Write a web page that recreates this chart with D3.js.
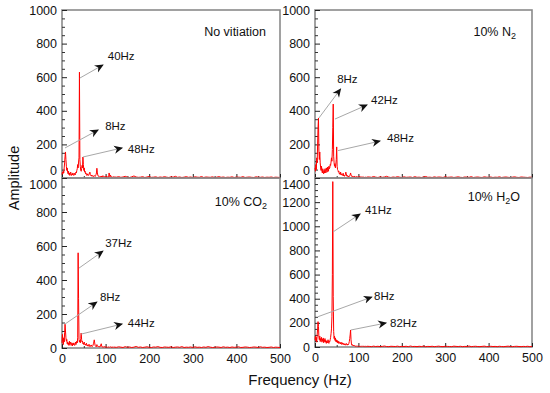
<!DOCTYPE html>
<html>
<head>
<meta charset="utf-8">
<script src="https://cdn.jsdelivr.net/npm/d3@7"></script>
<style>
  body { margin: 0; background: #fff; }
  svg text { font-family: "Liberation Sans", Arial, sans-serif; }
</style>
</head>
<body>
<svg width="550" height="393"></svg>
<script>
// spectrum values, 1 Hz steps from 0 to 120 Hz
const lowFreq = d3.range(0, 121)
// tail, 5 Hz steps from 125 to 500 Hz
const tailFreq = d3.range(125, 501, 5)

const noVitLow = [20,35,25,40,30,60,90,130,155,110,70,45,60,35,25,40,20,30,15,25,
  35,20,15,25,18,30,22,15,20,28,18,25,35,30,45,55,80,60,95,120,
  630,110,70,45,40,55,75,60,125,80,45,60,35,40,25,30,20,15,25,18,
  20,15,22,30,35,20,15,12,18,10,14,12,8,10,15,12,9,14,20,30,
  58,35,18,12,10,8,12,9,7,10,6,12,8,6,14,10,7,5,9,6,
  8,5,12,7,5,8,6,4,30,16,7,18,12,6,5,7,4,6,8,5,6]
const noVitTail = [5,8,4,6,10,5,3,7,12,6,4,5,8,3,6,9,4,5,7,3,
  6,4,8,5,3,7,5,10,4,6,3,5,8,4,6,3,7,5,4,9,
  3,6,5,4,7,3,5,8,4,6,3,5,4,7,3,6,5,4,8,3,
  5,6,4,3,7,5,4,6,3,5,4,6,3,5,4,3]

const n2Low = [60,40,80,50,120,90,200,300,357,160,110,155,90,60,45,70,40,30,55,35,
  25,45,30,55,40,30,60,45,35,65,50,40,70,55,60,80,75,95,120,100,
  170,300,440,130,90,70,85,60,80,110,185,70,50,45,35,40,25,30,20,35,
  22,18,25,15,20,28,12,18,10,14,20,35,25,12,10,15,8,12,6,10,
  14,20,30,18,12,8,10,6,9,5,8,12,6,4,7,5,9,6,4,8,
  5,7,4,10,6,5,3,7,5,4,6,8,4,5,3,6,4,7,5,3,6]
const n2Tail = [6,4,9,5,3,7,4,6,10,5,3,6,4,8,5,3,7,4,5,6,
  3,8,4,5,3,6,9,4,5,3,7,4,6,5,3,8,4,5,6,3,
  5,7,4,3,6,5,4,8,3,5,6,4,3,7,5,4,6,3,5,4,
  7,3,5,6,4,3,5,7,4,3,6,5,4,3,5,4]

const co2Low = [30,80,40,20,60,35,90,140,100,60,40,50,25,35,20,30,15,40,20,25,
  35,15,20,30,12,25,18,30,20,15,25,35,20,28,40,30,60,560,290,50,
  35,45,30,55,88,50,35,40,25,30,20,35,25,18,22,15,28,20,12,18,
  10,15,22,12,8,14,10,18,12,8,10,15,25,35,48,30,15,10,12,8,
  20,12,10,6,8,12,7,5,9,18,25,12,6,5,8,4,7,5,9,6,
  4,8,5,3,6,4,7,5,3,6,4,5,8,4,3,6,5,4,7,3,5]
const co2Tail = [4,7,5,3,8,4,6,3,5,9,4,6,3,5,7,4,3,6,5,8,
  4,3,6,5,4,7,3,5,6,4,8,3,5,4,6,3,7,4,5,3,
  6,4,8,5,3,4,6,5,3,7,4,5,3,6,4,5,7,3,4,6,
  5,3,4,6,5,3,7,4,5,3,4,6,3,5,4,3]

const h2oLow = [60,90,50,80,40,100,150,210,170,80,60,90,45,70,55,80,40,65,50,75,
  35,60,45,70,40,55,30,50,45,35,60,40,30,50,45,60,80,110,150,250,
  600,1370,420,130,70,90,55,75,45,60,40,55,35,50,30,45,40,30,35,25,
  40,30,20,35,25,30,20,28,18,25,15,22,30,20,15,25,18,20,30,45,
  70,100,141,60,25,15,20,12,8,15,10,12,6,8,5,9,6,4,7,5,
  8,4,6,3,7,5,4,6,3,5,8,4,6,3,5,4,7,3,5,4,6]
const h2oTail = [5,3,7,4,6,3,5,8,4,3,6,5,4,7,3,5,4,6,3,8,
  4,5,3,6,4,7,3,5,4,6,3,5,7,4,3,6,5,4,3,7,
  5,4,6,3,5,4,8,3,5,6,4,3,5,7,4,3,6,4,5,3,
  6,4,3,5,7,4,3,5,6,4,3,5,4,6,3,4]

// annotations: arrow from [freq, amp] to [freq, amp], label anchored at [freq, amp]
const noVitNotes = [
  { text: '40Hz', from: [41, 595], to: [94, 673], at: [105, 720] },
  { text: '8Hz',  from: [7, 179],  to: [83, 286], at: [99, 304] },
  { text: '48Hz', from: [48, 125], to: [138, 179], at: [151, 167] }
]
const n2Notes = [
  { text: '8Hz',  from: [9, 357],  to: [59, 530],  at: [51, 583] },
  { text: '42Hz', from: [46, 351], to: [120, 435], at: [129, 458] },
  { text: '48Hz', from: [53, 163], to: [150, 220], at: [166, 232] }
]
const co2Notes = [
  { text: '37Hz', from: [39, 470], to: [94, 570],  at: [99, 612] },
  { text: '8Hz',  from: [7, 141],  to: [80, 270],  at: [87, 294] },
  { text: '44Hz', from: [44, 82],  to: [138, 141], at: [151, 141] }
]
const h2oNotes = [
  { text: '41Hz', from: [41.5, 953], to: [104, 1102], at: [115, 1127] },
  { text: '8Hz',  from: [7, 251],    to: [131, 414],  at: [136, 414] },
  { text: '82Hz', from: [83, 141],   to: [164, 199],  at: [173, 190] }
]

const yTicks1000 = [0, 200, 400, 600, 800, 1000]
const yTicks1400 = [0, 200, 400, 600, 800, 1000, 1200, 1400]
const xTicks = [0, 100, 200, 300, 400, 500]

const panels = [
  { title: ['No vitiation'], low: noVitLow, tail: noVitTail, notes: noVitNotes, yTicks: yTicks1000,
    left: 62, right: 280, top: 10, bottom: 178, titleX: 266, titleY: 33, pos: 'top' },
  { title: ['10% N', '2'], low: n2Low, tail: n2Tail, notes: n2Notes, yTicks: yTicks1000,
    left: 315, right: 532, top: 10, bottom: 178, titleX: 516, titleY: 33, pos: 'top' },
  { title: ['10% CO', '2'], low: co2Low, tail: co2Tail, notes: co2Notes, yTicks: yTicks1000,
    left: 62, right: 280, top: 178, bottom: 348, titleX: 267, titleY: 203, pos: 'bottom' },
  { title: ['10% H', '2', 'O'], low: h2oLow, tail: h2oTail, notes: h2oNotes, yTicks: yTicks1400,
    left: 315, right: 532, top: 178, bottom: 347, titleX: 520, titleY: 198, pos: 'bottom' }
]

const svg = d3.select('svg')

const defs = svg.append('defs')
defs.append('marker')
  .attr('id', 'arrow')
  .attr('viewBox', '0 -5 10 10')
  .attr('refX', 9)
  .attr('refY', 0)
  .attr('markerWidth', 9)
  .attr('markerHeight', 9)
  .attr('markerUnits', 'userSpaceOnUse')
  .attr('orient', 'auto')
  .append('path')
  .attr('d', 'M0,-4.5L10,0L0,4.5L3,0Z')
  .attr('fill', '#111')

panels.forEach(p => {
  const x = d3.scaleLinear().domain([0, 500]).range([p.left, p.right])
  const yMax = d3.max(p.yTicks)
  const y = d3.scaleLinear().domain([0, yMax]).range([p.bottom, p.top])

  const g = svg.append('g')

  // frame
  g.append('rect')
    .attr('x', p.left)
    .attr('y', p.top)
    .attr('width', p.right - p.left)
    .attr('height', p.bottom - p.top)
    .attr('fill', 'none')
    .attr('stroke', '#8a8a8a')
    .attr('stroke-width', 1.6)

  // minor y ticks
  const minorY = d3.range(0, yMax + 1, 50).filter(v => v % 200 !== 0)
  g.append('g')
    .attr('transform', `translate(${p.left},0)`)
    .call(d3.axisLeft(y).tickValues(minorY).tickSize(-3).tickFormat(''))
    .call(a => a.select('.domain').remove())
    .selectAll('line').attr('stroke', '#333')

  const yAxis = g.append('g')
    .attr('transform', `translate(${p.left},0)`)
    .call(d3.axisLeft(y).tickValues(p.yTicks).tickSizeInner(-5).tickSizeOuter(0).tickPadding(5)
      .tickFormat(d3.format('d')))
  yAxis.select('.domain').remove()
  yAxis.selectAll('line').attr('stroke', '#222')
  yAxis.selectAll('text')
    .attr('font-size', 12.5)
    .attr('fill', '#111')
    .attr('dy', d => {
      if (p.pos === 'top' && d === 0) return '-0.3em'
      if (p.pos === 'bottom' && d === yMax) return '0.8em'
      return '0.32em'
    })

  // x ticks
  const minorX = [50, 150, 250, 350, 450]
  g.append('g')
    .attr('transform', `translate(0,${p.bottom})`)
    .call(d3.axisBottom(x).tickValues(minorX).tickSize(-2).tickFormat(''))
    .call(a => a.select('.domain').remove())
    .selectAll('line').attr('stroke', '#333')

  const xAxis = g.append('g')
    .attr('transform', `translate(0,${p.bottom})`)
    .call(d3.axisBottom(x).tickValues(xTicks).tickSizeInner(-4).tickSizeOuter(0).tickPadding(6)
      .tickFormat(p.pos === 'top' ? '' : d3.format('d')))
  xAxis.select('.domain').remove()
  xAxis.selectAll('line').attr('stroke', '#222')
  xAxis.selectAll('text').attr('font-size', 12.5).attr('fill', '#111')

  // spectrum line
  const pts = lowFreq.map((f, i) => [f, p.low[i]])
    .concat(tailFreq.map((f, i) => [f, p.tail[i]]))
  g.append('path')
    .datum(pts)
    .attr('fill', 'none')
    .attr('stroke', '#ff0000')
    .attr('stroke-width', 1)
    .attr('d', d3.line().x(d => x(d[0])).y(d => y(d[1])))

  // panel title with subscript
  const t = g.append('text')
    .attr('x', p.titleX)
    .attr('y', p.titleY)
    .attr('text-anchor', 'end')
    .attr('dominant-baseline', 'middle')
    .attr('font-size', 12.5)
    .attr('fill', '#111')
  p.title.forEach((s, i) => {
    const ts = t.append('tspan').text(s)
    if (i === 1) ts.attr('font-size', 9).attr('dy', 4)
    if (i === 2) ts.attr('dy', -4)
  })

  // annotation arrows
  p.notes.forEach(n => {
    g.append('line')
      .attr('x1', x(n.from[0]))
      .attr('y1', y(n.from[1]))
      .attr('x2', x(n.to[0]))
      .attr('y2', y(n.to[1]))
      .attr('stroke', '#a8a8a8')
      .attr('stroke-width', 1)
      .attr('marker-end', 'url(#arrow)')
    g.append('text')
      .attr('x', x(n.at[0]))
      .attr('y', y(n.at[1]))
      .attr('dominant-baseline', 'middle')
      .attr('font-size', 11.5)
      .attr('fill', '#111')
      .text(n.text)
  })
})

svg.append('text')
  .attr('transform', 'translate(15,178) rotate(-90)')
  .attr('text-anchor', 'middle')
  .attr('dominant-baseline', 'middle')
  .attr('font-size', 14.5)
  .attr('fill', '#111')
  .text('Amplitude')

svg.append('text')
  .attr('x', 300)
  .attr('y', 381)
  .attr('text-anchor', 'middle')
  .attr('dominant-baseline', 'middle')
  .attr('font-size', 15)
  .attr('fill', '#111')
  .text('Frequency (Hz)')
</script>
</body>
</html>
